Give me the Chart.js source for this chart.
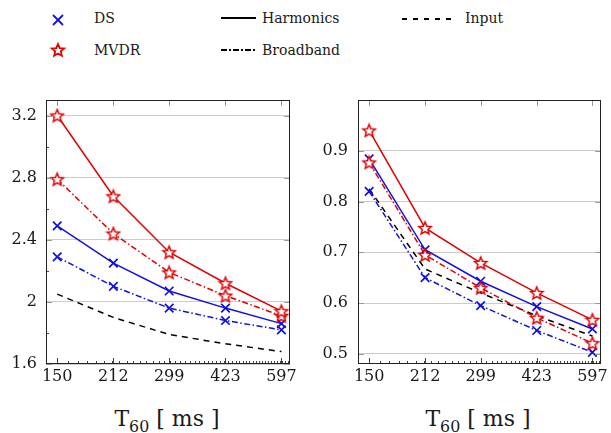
<!DOCTYPE html>
<html>
<head>
<meta charset="utf-8">
<script src="https://cdn.jsdelivr.net/npm/chart.js@4.4.0/dist/chart.umd.min.js"></script>
<style>
  body { margin: 0; background: #fff; width: 611px; height: 433px; position: relative; overflow: hidden; font-family: "DejaVu Serif", serif; color: #1a1a1a; }
  .box { position: absolute; top: 0; height: 400px; }
  #leftBox { left: 0; width: 300px; }
  #rightBox { left: 300px; width: 311px; }
  .lg { position: absolute; line-height: 20px; font-family: "DejaVu Serif"; font-size: 14px; }
  .xt { position: absolute; top: 404px; height: 30px; line-height: 30px; font-size: 22px; white-space: nowrap; transform: translateX(-50%); font-family: "DejaVu Serif"; }
  .xt sub { font-size: 72%; vertical-align: -0.35em; }
  #legendSvg { position: absolute; left: 0; top: 0; }
</style>
</head>
<body>
<svg id="legendSvg" width="611" height="70">
  <g stroke="#1010e0" stroke-width="1.8">
    <line x1="53" y1="15" x2="63" y2="25"/><line x1="53" y1="25" x2="63" y2="15"/>
  </g>
  <polygon id="lgStar" fill="#fff" stroke="#e00000" stroke-width="1.8"/>
  <line x1="221" y1="18" x2="256" y2="18" stroke="#000" stroke-width="1.8"/>
  <line x1="221" y1="50" x2="256" y2="50" stroke="#000" stroke-width="1.8" stroke-dasharray="6 2 2 2"/>
  <line x1="402" y1="19" x2="454" y2="19" stroke="#000" stroke-width="1.8" stroke-dasharray="5 6"/>
</svg>
<div class="lg" style="left:94px;top:8px">DS</div>
<div class="lg" style="left:94px;top:40px">MVDR</div>
<div class="lg" style="left:262px;top:8px">Harmonics</div>
<div class="lg" style="left:262px;top:40px">Broadband</div>
<div class="lg" style="left:465px;top:8px">Input</div>

<div class="box" id="leftBox"><canvas id="leftChart" width="300" height="400"></canvas></div>
<div class="box" id="rightBox"><canvas id="rightChart" width="311" height="400"></canvas></div>
<div class="xt" style="left:167px">T<sub>60</sub> [ ms ]</div>
<div class="xt" style="left:478px">T<sub>60</sub> [ ms ]</div>

<script>
// reverberation times (x ticks)
const t60 = [150, 212, 299, 423, 597];

// left panel
const leftTicks = [1.6, 2.0, 2.4, 2.8, 3.2];
const leftMvdrHarm = [3.20, 2.68, 2.32, 2.12, 1.94];
const leftMvdrBroad = [2.79, 2.44, 2.19, 2.04, 1.91];
const leftDsHarm = [2.49, 2.25, 2.07, 1.96, 1.86];
const leftDsBroad = [2.29, 2.10, 1.96, 1.88, 1.82];
const leftInput = [2.05, 1.90, 1.79, 1.73, 1.68];

// right panel
const rightTicks = [0.5, 0.6, 0.7, 0.8, 0.9];
const rightMvdrHarm = [0.940, 0.748, 0.679, 0.620, 0.567];
const rightMvdrBroad = [0.877, 0.695, 0.630, 0.571, 0.521];
const rightDsHarm = [0.884, 0.705, 0.643, 0.593, 0.549];
const rightDsBroad = [0.820, 0.650, 0.595, 0.546, 0.503];
const rightInput = [0.825, 0.667, 0.620, 0.575, 0.535];

const RED = '#e00000';
const BLUE = '#1010e0';
const DASHDOT = [6, 2.5, 1.5, 2.5];
const SERIF = "'DejaVu Serif'";

function starPoints(cx, cy, ro, ri) {
    const pts = [];
    for (let i = 0; i < 10; i++) {
        const r = i % 2 ? ri : ro;
        const a = -Math.PI / 2 + i * Math.PI / 5;
        pts.push([cx + r * Math.cos(a), cy + r * Math.sin(a)]);
    }
    return pts;
}

document.getElementById('lgStar').setAttribute('points',
    starPoints(58, 50.5, 6.5, 3.0).map(p => p.join(',')).join(' '));

// star marker as an image for chart.js
const star = document.createElement('canvas');
star.width = 16; star.height = 16;
(() => {
    const c = star.getContext('2d');
    const pts = starPoints(8, 8.6, 6.6, 3.0);
    c.beginPath();
    pts.forEach((p, i) => i ? c.lineTo(p[0], p[1]) : c.moveTo(p[0], p[1]));
    c.closePath();
    c.fillStyle = '#fff';
    c.fill();
    c.strokeStyle = RED;
    c.lineWidth = 1.5;
    c.stroke();
})();

const xy = vals => vals.map((v, i) => ({ x: t60[i], y: v }));

const frame = {
    id: 'frame',
    afterDraw(chart, args, opts) {
        const { ctx, chartArea: a, scales: { x, y } } = chart;
        ctx.save();
        ctx.lineWidth = 1;
        ctx.strokeStyle = '#444';
        ctx.beginPath();
        for (let v = 150; v <= 620; v += 10) {
            const px = Math.round(x.getPixelForValue(v)) + 0.5;
            ctx.moveTo(px, a.bottom); ctx.lineTo(px, a.bottom - 3);
        }
        t60.forEach(v => {
            const px = Math.round(x.getPixelForValue(v)) + 0.5;
            ctx.moveTo(px, a.bottom); ctx.lineTo(px, a.bottom - 6);
        });
        (opts.minorY || []).forEach(v => {
            const py = Math.round(y.getPixelForValue(v)) + 0.5;
            ctx.moveTo(a.left, py); ctx.lineTo(a.left + 3, py);
        });
        ctx.stroke();
        ctx.strokeStyle = '#999';
        ctx.beginPath();
        t60.forEach(v => {
            const px = Math.round(x.getPixelForValue(v)) + 0.5;
            ctx.moveTo(px, a.top); ctx.lineTo(px, a.top + 6);
        });
        opts.yTicks.forEach(v => {
            const py = Math.round(y.getPixelForValue(v)) + 0.5;
            ctx.moveTo(a.left, py); ctx.lineTo(a.left + 6, py);
            ctx.moveTo(a.right, py); ctx.lineTo(a.right - 6, py);
        });
        ctx.stroke();
        ctx.strokeStyle = '#222';
        ctx.strokeRect(Math.round(a.left) + 0.5, Math.round(a.top) + 0.5,
            Math.round(a.right - a.left) - 1, Math.round(a.bottom - a.top) - 1);
        ctx.restore();
    }
};

function makeChart(id, s, cfg) {
    const line = (data, color, dash, marker) => ({
        data: xy(data),
        borderColor: color,
        backgroundColor: color,
        borderWidth: 1.5,
        borderDash: dash,
        pointStyle: marker,
        pointRadius: marker === 'crossRot' ? 6 : 7,
        pointBorderWidth: 1.7,
        pointBorderColor: color,
        tension: 0,
        clip: false
    });
    new Chart(document.getElementById(id), {
        type: 'line',
        data: {
            datasets: [
                line(s.mvdrHarm, RED, [], star),
                line(s.mvdrBroad, RED, DASHDOT, star),
                line(s.dsHarm, BLUE, [], 'crossRot'),
                line(s.dsBroad, BLUE, DASHDOT, 'crossRot'),
                { data: xy(s.input), borderColor: '#000', borderWidth: 1.5, borderDash: [6, 5], pointRadius: 0, tension: 0 }
            ]
        },
        options: {
            responsive: false,
            animation: false,
            devicePixelRatio: 1,
            layout: { padding: { top: 100, right: cfg.right, left: 0, bottom: 0 } },
            plugins: {
                legend: { display: false },
                tooltip: { enabled: false },
                frame: { yTicks: cfg.ticks, minorY: cfg.minorY }
            },
            scales: {
                x: {
                    type: 'logarithmic',
                    min: 140,
                    max: 630,
                    grid: { display: false, drawTicks: false },
                    border: { display: false },
                    afterBuildTicks: axis => { axis.ticks = t60.map(v => ({ value: v })); },
                    afterFit: axis => { axis.height = 36; },
                    ticks: {
                        callback: v => String(v),
                        autoSkip: false,
                        maxRotation: 0,
                        padding: 3,
                        color: '#1a1a1a',
                        font: { family: SERIF, size: 16 }
                    }
                },
                y: {
                    min: cfg.min,
                    max: cfg.max,
                    grid: { color: '#cccccc', drawTicks: false },
                    border: { display: false },
                    afterBuildTicks: axis => { axis.ticks = cfg.ticks.map(v => ({ value: v })); },
                    afterFit: axis => { axis.width = cfg.yWidth; },
                    ticks: {
                        callback: v => String(+v.toFixed(1)),
                        padding: cfg.pad,
                        color: '#1a1a1a',
                        font: { family: SERIF, size: 16 }
                    }
                }
            }
        },
        plugins: [frame]
    });
}

makeChart('leftChart',
    { mvdrHarm: leftMvdrHarm, mvdrBroad: leftMvdrBroad, dsHarm: leftDsHarm, dsBroad: leftDsBroad, input: leftInput },
    { min: 1.6, max: 3.3, ticks: leftTicks, minorY: [1.8, 2.2, 2.6, 3.0], yWidth: 46, right: 8, pad: 9 });

makeChart('rightChart',
    { mvdrHarm: rightMvdrHarm, mvdrBroad: rightMvdrBroad, dsHarm: rightDsHarm, dsBroad: rightDsBroad, input: rightInput },
    { min: 0.48, max: 1.0, ticks: rightTicks, minorY: [], yWidth: 58, right: 8, pad: 10 });
</script>
</body>
</html>
